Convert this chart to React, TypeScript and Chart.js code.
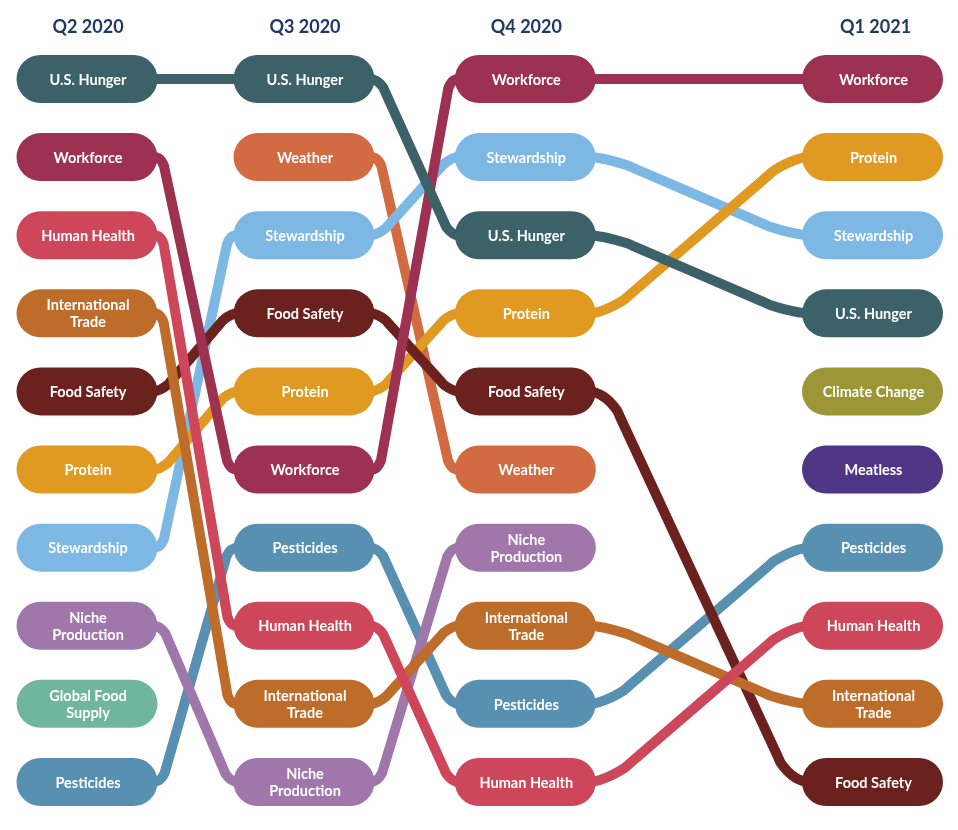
import React, { useEffect, useRef } from 'react';
import { Chart, registerables } from 'chart.js';

Chart.register(...registerables);

// ---- Data ----
const quarters = ['Q2 2020', 'Q3 2020', 'Q4 2020', 'Q1 2021'];

// rank per quarter (1 = top); null = not in ranking that quarter
const rankUSHunger = [1, 1, 3, 4];
const rankWorkforce = [2, 6, 1, 1];
const rankHumanHealth = [3, 8, 10, 8];
const rankInternationalTrade = [4, 9, 8, 9];
const rankFoodSafety = [5, 4, 5, 10];
const rankProtein = [6, 5, 4, 2];
const rankStewardship = [7, 3, 2, 3];
const rankNicheProduction = [8, 10, 7, null];
const rankGlobalFoodSupply = [9, null, null, null];
const rankPesticides = [10, 7, 9, 7];
const rankWeather = [null, 2, 6, null];
const rankClimateChange = [null, null, null, 5];
const rankMeatless = [null, null, null, 6];

const topicNames = [
  'U.S. Hunger', 'Workforce', 'Human Health', 'International Trade', 'Food Safety',
  'Protein', 'Stewardship', 'Niche Production', 'Global Food Supply', 'Pesticides',
  'Weather', 'Climate Change', 'Meatless',
];
const topicRanks = [
  rankUSHunger, rankWorkforce, rankHumanHealth, rankInternationalTrade, rankFoodSafety,
  rankProtein, rankStewardship, rankNicheProduction, rankGlobalFoodSupply, rankPesticides,
  rankWeather, rankClimateChange, rankMeatless,
];
const pillLabels: Record<string, string[]> = {
  'International Trade': ['International', 'Trade'],
  'Niche Production': ['Niche', 'Production'],
  'Global Food Supply': ['Global Food', 'Supply'],
};

// ---- Styles / layout ----
const topicColors = [
  '#3d6169', '#9c3151', '#cd4659', '#bd6c29', '#6b221f',
  '#e09a22', '#7db8e5', '#a077ab', '#70b59d', '#5890b2',
  '#d36b42', '#9d9636', '#4f3684',
];
const quarterX = [0, 1, 2.02, 3.62];
const X_MIN = -0.401;
const X_MAX = 4.014;
const Y_MIN = -0.0114;
const Y_MAX = 10.615;
const W = 958;
const H = 830;
const PX_X = W / (X_MAX - X_MIN);
const PX_Y = H / (Y_MAX - Y_MIN);
const PILL_W = 141;
const PILL_H = 48;
const HEADER_RANK = 0.335;
const FONT = 'Lato, "Open Sans", sans-serif';

function buildPath(ranks: (number | null)[]) {
  const pts: { x: number; y: number }[] = [];
  for (let i = 0; i < ranks.length; i++) {
    const r1 = ranks[i];
    if (r1 == null) continue;
    const x1 = quarterX[i];
    if (pts.length === 0 || pts[pts.length - 1].x !== x1) pts.push({ x: x1, y: r1 });
    const r2 = i + 1 < ranks.length ? ranks[i + 1] : null;
    if (r2 == null) continue;
    const x2 = quarterX[i + 1];
    if (r2 !== r1) {
      const gap = (x2 - x1) * PX_X - PILL_W;
      const s = 0.06 * gap;
      const t = 0.09 * gap + 2;
      const v1x = x1 + (PILL_W / 2 + s) / PX_X;
      const v2x = x2 - (PILL_W / 2 + s) / PX_X;
      const dxp = (v2x - v1x) * PX_X;
      const dyp = (r2 - r1) * PX_Y;
      const len = Math.hypot(dxp, dyp);
      const ux = dxp / len;
      const uy = dyp / len;
      const t2 = t * 1.4;
      pts.push({ x: v1x - t / PX_X, y: r1 });
      pts.push({ x: v1x + (t * ux) / PX_X, y: r1 + (t * uy) / PX_Y });
      pts.push({ x: v1x + (t2 * ux) / PX_X, y: r1 + (t2 * uy) / PX_Y });
      pts.push({ x: v2x - (t2 * ux) / PX_X, y: r2 - (t2 * uy) / PX_Y });
      pts.push({ x: v2x - (t * ux) / PX_X, y: r2 - (t * uy) / PX_Y });
      pts.push({ x: v2x + t / PX_X, y: r2 });
    }
    pts.push({ x: x2, y: r2 });
  }
  return pts;
}

const pillPlugin = {
  id: 'pills',
  afterDatasetsDraw(chart: any) {
    const ctx: CanvasRenderingContext2D = chart.ctx;
    const xs = chart.scales.x;
    const ys = chart.scales.y;
    ctx.save();
    ctx.textAlign = 'center';
    ctx.textBaseline = 'middle';
    ctx.fillStyle = '#1f3864';
    ctx.font = `bold 18px ${FONT}`;
    quarters.forEach((q, i) => {
      ctx.fillText(q, xs.getPixelForValue(quarterX[i]) + (i === 3 ? 3 : 1), ys.getPixelForValue(HEADER_RANK));
    });
    topicNames.forEach((name, k) => {
      topicRanks[k].forEach((r, i) => {
        if (r == null) return;
        const cx = xs.getPixelForValue(quarterX[i]);
        const cy = ys.getPixelForValue(r);
        ctx.fillStyle = topicColors[k];
        ctx.beginPath();
        ctx.roundRect(cx - PILL_W / 2, cy - PILL_H / 2, PILL_W, PILL_H, PILL_H / 2);
        ctx.fill();
        ctx.fillStyle = '#ffffff';
        ctx.font = `bold 14.5px ${FONT}`;
        const lines = pillLabels[name] || [name];
        const lh = 17;
        lines.forEach((ln, j) => {
          ctx.fillText(ln, cx + 1, cy + (j - (lines.length - 1) / 2) * lh + 1);
        });
      });
    });
    ctx.restore();
  },
};

export default function App() {
  const ref = useRef<HTMLCanvasElement | null>(null);
  useEffect(() => {
    if (!ref.current) return;
    const chart = new Chart(ref.current, {
      type: 'line',
      data: {
        datasets: topicNames.map((name, k) => ({
          label: name,
          data: buildPath(topicRanks[k]),
          borderColor: topicColors[k],
          backgroundColor: topicColors[k],
          borderWidth: 10,
          pointRadius: 0,
          pointHoverRadius: 0,
          fill: false,
          cubicInterpolationMode: 'monotone' as const,
          borderCapStyle: 'round' as const,
          borderJoinStyle: 'round' as const,
        })),
      },
      options: {
        animation: false,
        responsive: false,
        maintainAspectRatio: false,
        events: [],
        layout: { padding: 0 },
        scales: {
          x: { type: 'linear', display: false, min: X_MIN, max: X_MAX },
          y: { type: 'linear', display: false, reverse: true, min: Y_MIN, max: Y_MAX },
        },
        plugins: { legend: { display: false }, tooltip: { enabled: false } },
      },
      plugins: [pillPlugin],
    });
    return () => chart.destroy();
  }, []);
  return (
    <div style={{ position: 'absolute', left: 0, top: 0, width: W, height: H, background: '#ffffff' }}>
      <canvas ref={ref} width={W} height={H} style={{ width: W, height: H }} />
    </div>
  );
}
